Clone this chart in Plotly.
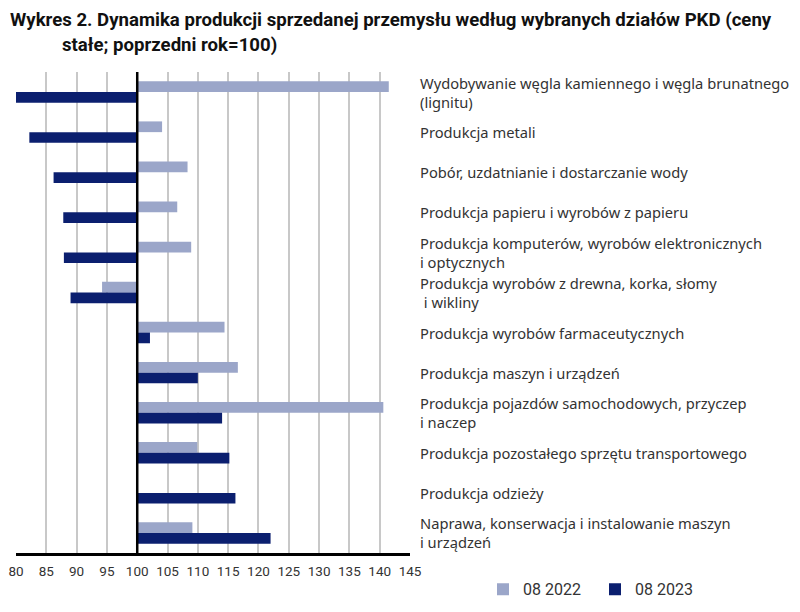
import plotly.graph_objects as go

categories = [
    "Wydobywanie węgla kamiennego i węgla brunatnego<br>(lignitu)",
    "Produkcja metali",
    "Pobór, uzdatnianie i dostarczanie wody",
    "Produkcja papieru i wyrobów z papieru",
    "Produkcja komputerów, wyrobów elektronicznych<br>i optycznych",
    "Produkcja wyrobów z drewna, korka, słomy<br> i wikliny",
    "Produkcja wyrobów farmaceutycznych",
    "Produkcja maszyn i urządzeń",
    "Produkcja pojazdów samochodowych, przyczep<br>i naczep",
    "Produkcja pozostałego sprzętu transportowego",
    "Produkcja odzieży",
    "Naprawa, konserwacja i instalowanie maszyn<br>i urządzeń",
]
values_2022 = [141.5, 104.1, 108.3, 106.6, 108.9, 94.2, 114.4, 116.6, 140.6, 109.9, 100.0, 109.1]
values_2023 = [80.0, 82.2, 86.2, 87.8, 87.9, 89.0, 102.1, 110.0, 114.0, 115.2, 116.2, 122.0]
tick_vals = list(range(80, 150, 5))
BASE = 100
series_names = ["08 2022", "08 2023"]

idx = list(range(len(categories)))
LIGHT = "#9ba6c9"
DARK = "#0b1f6f"

fig = go.Figure()
for name, vals, col in [(series_names[0], values_2022, LIGHT), (series_names[1], values_2023, DARK)]:
    fig.add_trace(go.Bar(
        y=idx, x=[v - BASE for v in vals], base=BASE, orientation="h",
        name=name, marker=dict(color=col, line=dict(width=0)),
        hoverinfo="skip",
    ))

for i, c in enumerate(categories):
    fig.add_annotation(x=1.0, xref="paper", xshift=8, y=i, yref="y",
                       text=c, showarrow=False, xanchor="left", yanchor="middle",
                       align="left", font=dict(family="Noto Sans", size=14.7, color="#333333"))

fig.add_shape(type="line", x0=BASE, x1=BASE, xref="x", y0=0, y1=1, yref="paper",
              line=dict(color="black", width=2.5))

fig.add_annotation(text="<b>Wykres 2. Dynamika produkcji sprzedanej przemysłu według wybranych działów PKD (ceny</b>",
                   x=(8 - 16) / 394, xref="paper", y=1, yref="paper", yshift=72 - 20, showarrow=False,
                   xanchor="left", yanchor="middle",
                   font=dict(family="Roboto", size=18.6, color="#111111"))
fig.add_annotation(text="<b>stałe; poprzedni rok=100)</b>",
                   x=(60 - 16) / 394, xref="paper", y=1, yref="paper", yshift=72 - 45, showarrow=False,
                   xanchor="left", yanchor="middle",
                   font=dict(family="Roboto", size=18.6, color="#111111"))

fig.update_layout(
    width=800, height=612,
    margin=dict(l=16, r=390, t=72, b=59, autoexpand=False),
    paper_bgcolor="white", plot_bgcolor="white",
    barmode="group", bargap=0.465, bargroupgap=0,
    showlegend=True,
    legend=dict(orientation="h", x=(483 - 16) / 394, xref="paper", y=-0.04, yanchor="top",
                xanchor="left", font=dict(family="Roboto", size=16, color="#333333"),
                entrywidth=67, entrywidthmode="pixels", traceorder="normal"),
    xaxis=dict(range=[80, 145], tickvals=tick_vals, showgrid=True, gridcolor="#c8c8c8",
               gridwidth=1.5, zeroline=False, showline=True, linecolor="black", linewidth=2.5,
               ticks="", automargin=False, ticklabelstandoff=4,
               tickfont=dict(family="Roboto", size=13.5, color="#333333")),
    yaxis=dict(range=[len(categories) - 0.5, -0.5], showticklabels=False, showgrid=False,
               zeroline=False, showline=False, ticks="", automargin=False),
)

fig.write_html("out.html", post_script="document.body.style.margin='0';",
               config={"displayModeBar": False})
